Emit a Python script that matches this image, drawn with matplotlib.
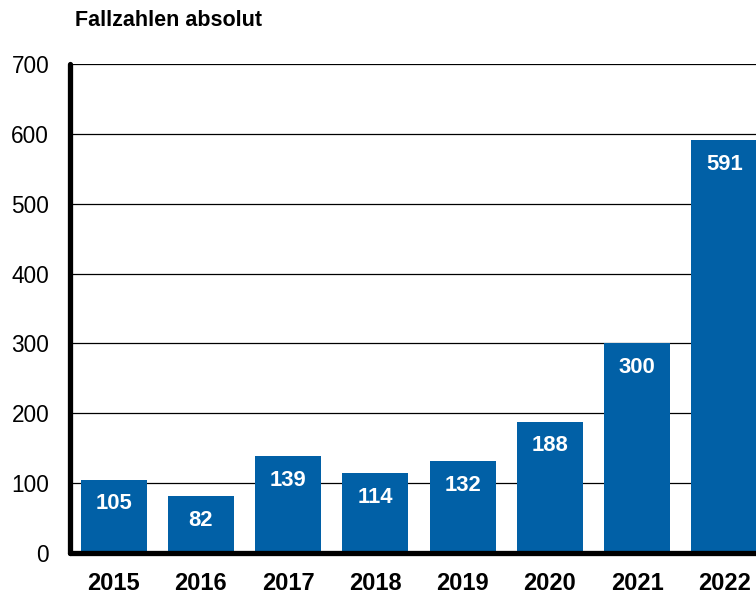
import matplotlib.pyplot as plt

plt.rcParams['font.family'] = ['Liberation Sans', 'DejaVu Sans']

# Daten
years = ['2015', '2016', '2017', '2018', '2019', '2020', '2021', '2022']
cases = [105, 82, 139, 114, 132, 188, 300, 591]
yticks = [0, 100, 200, 300, 400, 500, 600, 700]

bar_color = '#0160A6'

fig = plt.figure(figsize=(7.56, 5.95), dpi=100)
# Achse ragt rechts ueber den Rand hinaus (letzter Balken abgeschnitten)
ax = fig.add_axes([70 / 756, 42 / 595, 698 / 756, 489 / 595])

x = list(range(len(years)))
bars = ax.bar(x, cases, width=0.755, color=bar_color, zorder=3)

for xi, v in zip(x, cases):
    ax.annotate(str(v), (xi, v), xytext=(0, -17.5), textcoords='offset points',
                ha='center', va='center', color='white', fontsize=15.8,
                fontweight='bold', zorder=4)

ax.set_xlim(-0.5, len(years) - 0.5)
ax.set_ylim(0, 700)
ax.set_yticks(yticks)
ax.set_xticks(x)
ax.set_xticklabels(years, fontsize=17, fontweight='bold')
ax.set_yticklabels([str(t) for t in yticks], fontsize=16.3)
ax.tick_params(axis='both', length=0)
ax.tick_params(axis='y', pad=15)
ax.tick_params(axis='x', pad=14)

ax.grid(axis='y', color='black', linewidth=0.9, zorder=1)
ax.set_axisbelow(True)

for s in ['top', 'right']:
    ax.spines[s].set_visible(False)
for s in ['left', 'bottom']:
    ax.spines[s].set_linewidth(3.8)
    ax.spines[s].set_capstyle('round')
    ax.spines[s].set_zorder(5)

fig.text(75 / 756, 1 - 21 / 595, 'Fallzahlen absolut', fontsize=15.5,
         fontweight='bold', va='center', ha='left')

fig.savefig('out.png', dpi=100)
